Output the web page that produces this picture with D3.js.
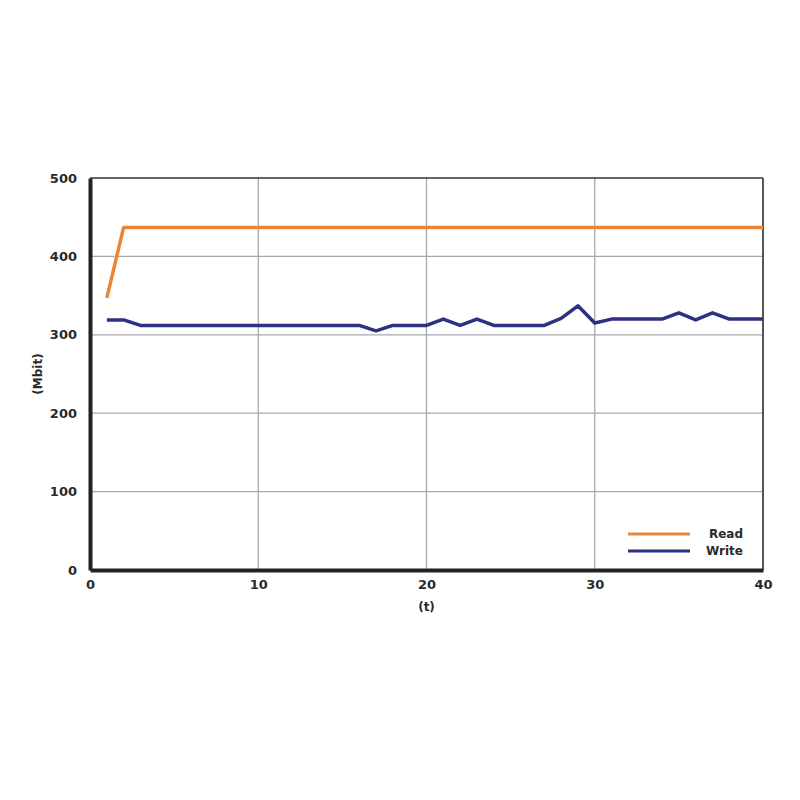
<!DOCTYPE html>
<html>
<head>
<meta charset="utf-8">
<script src="https://cdn.jsdelivr.net/npm/d3@7"></script>
<style>
  body { margin: 0; background: #fff; }
  text { font-family: "DejaVu Sans", sans-serif; font-weight: bold; fill: #2a2a2a; }
</style>
</head>
<body>
<div id="chart"></div>
<script>
// Data
const tValues = d3.range(1, 41);
const readValues = [347, 437, 437, 437, 437, 437, 437, 437, 437, 437,
  437, 437, 437, 437, 437, 437, 437, 437, 437, 437,
  437, 437, 437, 437, 437, 437, 437, 437, 437, 437,
  437, 437, 437, 437, 437, 437, 437, 437, 437, 437];
const writeValues = [319, 319, 312, 312, 312, 312, 312, 312, 312, 312,
  312, 312, 312, 312, 312, 312, 305, 312, 312, 312,
  320, 312, 320, 312, 312, 312, 312, 321, 337, 315,
  320, 320, 320, 320, 328, 319, 328, 320, 320, 320];
const xTicks = [0, 10, 20, 30, 40];
const yTicks = [0, 100, 200, 300, 400, 500];
const seriesNames = ["Read", "Write"];
const seriesColors = ["#E8873A", "#2E3082"];

const w = 800, h = 800;
const margin = {top: 178, bottom: 230, left: 90, right: 37};

const svg = d3.select("#chart").append("svg")
  .attr("width", w)
  .attr("height", h);

const x = d3.scaleLinear().domain([0, 40]).range([margin.left, w - margin.right]);
const y = d3.scaleLinear().domain([0, 500]).range([h - margin.bottom, margin.top]);

// grid
svg.append("g").selectAll("line")
  .data(yTicks.slice(1, -1))
  .enter().append("line")
  .attr("x1", x(0)).attr("x2", x(40))
  .attr("y1", d => y(d)).attr("y2", d => y(d))
  .attr("stroke", "#a8a8a8").attr("stroke-width", 1.3);
svg.append("g").selectAll("line")
  .data(xTicks.slice(1, -1))
  .enter().append("line")
  .attr("y1", y(0)).attr("y2", y(500))
  .attr("x1", d => x(d)).attr("x2", d => x(d))
  .attr("stroke", "#a8a8a8").attr("stroke-width", 1.3);

// frame: thin top / right
svg.append("line").attr("x1", x(0)).attr("x2", x(40)).attr("y1", y(500)).attr("y2", y(500))
  .attr("stroke", "#333").attr("stroke-width", 1.5);
svg.append("line").attr("x1", x(40)).attr("x2", x(40)).attr("y1", y(500)).attr("y2", y(0))
  .attr("stroke", "#555").attr("stroke-width", 2);

// series
const line = d3.line().x((d, i) => x(tValues[i])).y(d => y(d));
[readValues, writeValues].forEach((vals, k) => {
  svg.append("path")
    .datum(vals)
    .attr("d", line)
    .attr("fill", "none")
    .attr("stroke", seriesColors[k])
    .attr("stroke-width", 3.5)
    .attr("stroke-linejoin", "round");
});

// axes (thick left / bottom)
const xAxis = svg.append("g")
  .attr("transform", `translate(0,${y(0)})`)
  .call(d3.axisBottom(x).tickValues(xTicks).tickSize(0).tickPadding(10));
xAxis.select(".domain").attr("stroke", "#222").attr("stroke-width", 4);
xAxis.selectAll("text").style("font-size", "13px").attr("fill", "#2a2a2a");

const yAxis = svg.append("g")
  .attr("transform", `translate(${x(0)},0)`)
  .call(d3.axisLeft(y).tickValues(yTicks).tickSize(0).tickPadding(13));
yAxis.select(".domain").attr("stroke", "#222").attr("stroke-width", 4);
yAxis.selectAll("text").style("font-size", "13px").attr("fill", "#2a2a2a");

// axis titles
svg.append("text")
  .attr("x", (x(0) + x(40)) / 2)
  .attr("y", 611)
  .attr("text-anchor", "middle")
  .style("font-size", "12px")
  .text("(t)");
svg.append("text")
  .attr("transform", `translate(42,${(y(0) + y(500)) / 2}) rotate(-90)`)
  .attr("text-anchor", "middle")
  .style("font-size", "12px")
  .text("(Mbit)");

// legend
const legend = svg.append("g");
seriesNames.forEach((name, k) => {
  const ly = 534 + k * 17;
  legend.append("line")
    .attr("x1", 628).attr("x2", 690)
    .attr("y1", ly).attr("y2", ly)
    .attr("stroke", seriesColors[k]).attr("stroke-width", 3);
  legend.append("text")
    .attr("x", 743).attr("y", ly + 4)
    .attr("text-anchor", "end")
    .style("font-size", "12px")
    .text(name);
});
</script>
</body>
</html>
